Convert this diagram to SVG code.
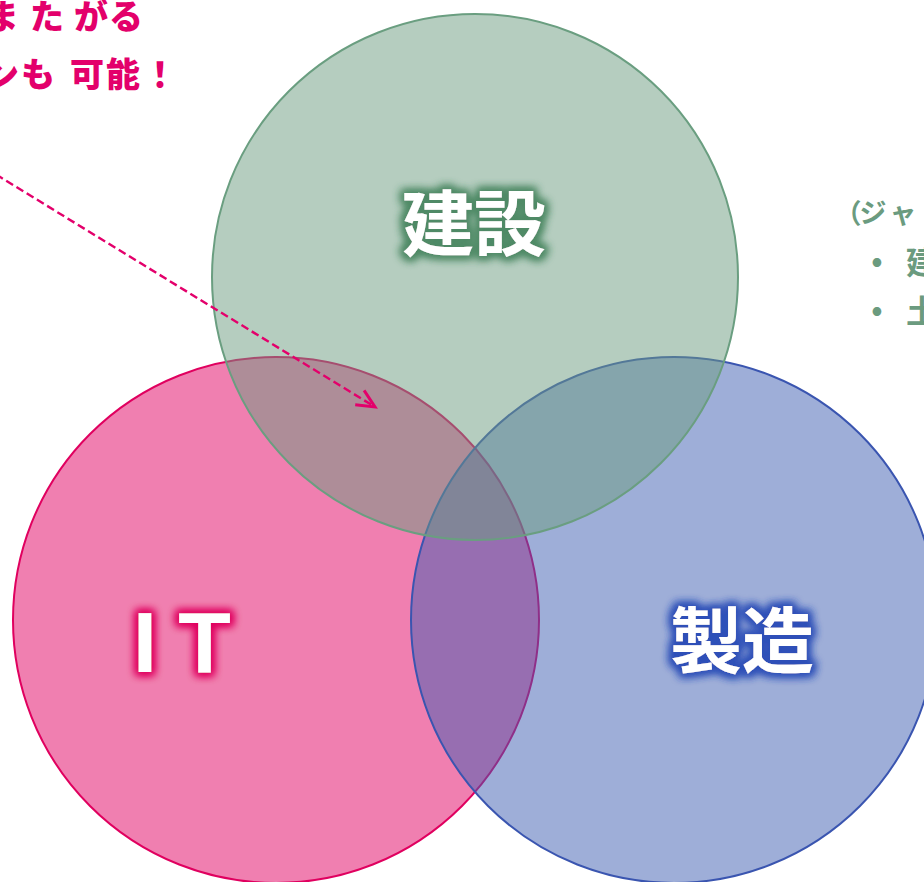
<svg xmlns="http://www.w3.org/2000/svg" width="924" height="882" viewBox="0 0 924 882">
<style>
.jp{font-family:"Noto Sans CJK JP","Noto Sans",sans-serif;font-weight:bold}
.lbl{fill:#ffffff;font-size:72px;text-anchor:middle}
.note{fill:#e3006b;font-size:34px;text-anchor:middle;font-weight:900}
.side{fill:#6b9b7f}
.circ{stroke-width:2;fill-opacity:0.5}
</style>
<defs>
<filter id="glowG" x="-30%" y="-40%" width="160%" height="180%">
<feMorphology in="SourceAlpha" operator="dilate" radius="3" result="d"/>
<feGaussianBlur in="d" stdDeviation="4" result="b"/>
<feFlood flood-color="#4f8a66"/>
<feComposite in2="b" operator="in" result="g"/>
<feMerge><feMergeNode in="g"/><feMergeNode in="g"/><feMergeNode in="SourceGraphic"/></feMerge>
</filter>
<filter id="glowP" x="-30%" y="-40%" width="160%" height="180%">
<feMorphology in="SourceAlpha" operator="dilate" radius="3" result="d"/>
<feGaussianBlur in="d" stdDeviation="4" result="b"/>
<feFlood flood-color="#e0005f"/>
<feComposite in2="b" operator="in" result="g"/>
<feMerge><feMergeNode in="g"/><feMergeNode in="g"/><feMergeNode in="SourceGraphic"/></feMerge>
</filter>
<filter id="glowB" x="-30%" y="-40%" width="160%" height="180%">
<feMorphology in="SourceAlpha" operator="dilate" radius="3" result="d"/>
<feGaussianBlur in="d" stdDeviation="4" result="b"/>
<feFlood flood-color="#2f50b8"/>
<feComposite in2="b" operator="in" result="g"/>
<feMerge><feMergeNode in="g"/><feMergeNode in="g"/><feMergeNode in="SourceGraphic"/></feMerge>
</filter>
<marker id="arr" markerUnits="userSpaceOnUse" markerWidth="24" markerHeight="22" refX="18" refY="8.5" orient="auto" viewBox="-2 -2 24 21">
<path d="M0,0 L18,8.5 L0,17" fill="none" stroke="#e3006b" stroke-width="3" stroke-dasharray="none"/>
</marker>
</defs>
<rect width="924" height="882" fill="#ffffff"/>
<g id="it">
<circle class="circ" cx="276" cy="620" r="263" fill="#e10061" stroke="#e0005f"/>
</g>
<g id="seizo">
<circle class="circ" cx="674" cy="620" r="263" fill="#3d5db1" stroke="#3a55b0"/>
</g>
<g id="kensetsu">
<circle class="circ" cx="475" cy="277" r="263" fill="#6b9b7f" stroke="#6a9e80"/>
</g>
<g id="connectors">
<path d="M-4,174.5 L375,407" fill="none" stroke="#e3006b" stroke-width="2.4" stroke-dasharray="8,4" marker-end="url(#arr)"/>
</g>
<g id="labels">
<text class="jp lbl" x="474" y="250" filter="url(#glowG)">建設</text>
<text class="jp lbl" x="742" y="667" filter="url(#glowB)">製造</text>
<g filter="url(#glowP)">
<text x="145" y="672" font-family="Liberation Sans, Arial, sans-serif" font-weight="bold" font-size="86" fill="#ffffff" text-anchor="middle">I</text>
<text x="204.5" y="672" font-family="Liberation Sans, Arial, sans-serif" font-weight="bold" font-size="86" fill="#ffffff" text-anchor="middle">T</text>
</g>
</g>
<g id="note">
<text class="jp note" x="2 47 91 126" y="29">またがる</text>
<text class="jp note" x="2 38 87 123 160" y="87">ンも可能！</text>
</g>
<g id="side">
<text class="jp side" font-size="27" text-anchor="middle" x="848 873 903" y="223">（ジャ</text>
<text class="jp side" font-size="30" text-anchor="middle" x="877" y="271">•</text>
<text class="jp side" font-size="32" x="906" y="274">建</text>
<text class="jp side" font-size="30" text-anchor="middle" x="877" y="320">•</text>
<text class="jp side" font-size="32" x="906" y="323">土</text>
</g>
</svg>
